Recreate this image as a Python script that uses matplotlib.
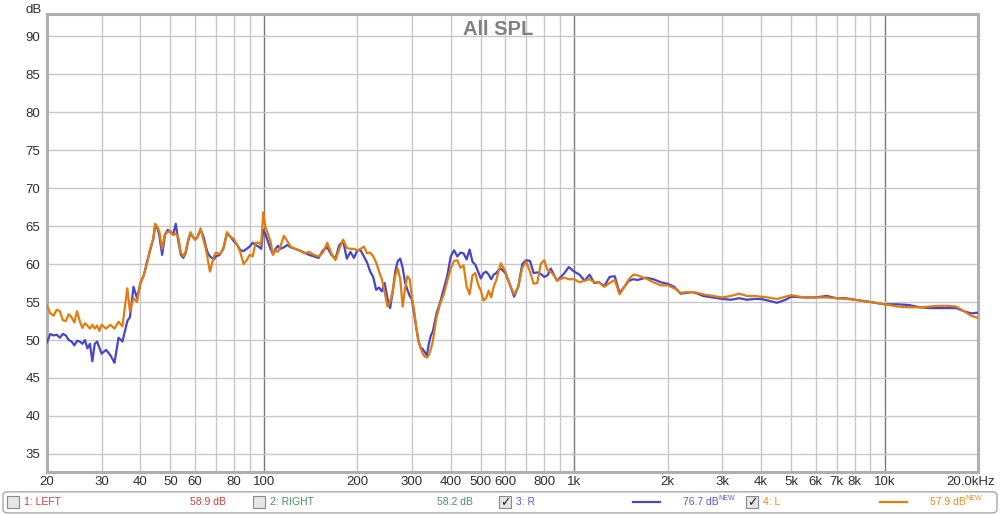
import matplotlib.pyplot as plt
from matplotlib.patches import FancyBboxPatch, Rectangle
from matplotlib.lines import Line2D
from matplotlib.ticker import FixedLocator, NullFormatter
from matplotlib.transforms import ScaledTranslation

plt.rcParams['font.family'] = ['Liberation Sans', 'DejaVu Sans']

# frequency points (Hz) shared by both traces
freq = [20, 20.5, 21, 21.5, 22, 22.5, 23, 23.5, 24, 24.5, 25, 25.5, 26, 26.5, 27, 27.5,
        28, 28.5, 29, 29.5, 30, 31, 32, 33, 34, 35, 36.3, 37, 38, 39, 40, 41, 42, 43, 44,
        44.6, 45.5, 46, 47, 48, 49, 50, 51, 52, 53, 54, 55, 56, 57, 58, 59, 60, 61, 62.5,
        64, 65, 66, 67, 68, 69, 70, 72, 74, 76, 78, 80, 82, 84, 86, 88, 90, 92, 94, 96, 98,
        99.5, 101, 103, 105, 107, 109, 111, 113, 116, 119, 122, 126, 130, 135, 140, 145,
        150, 155, 160, 165, 170, 175, 180, 185, 190, 195, 200, 205, 210, 215, 220, 225,
        230, 235, 240, 245, 250, 255, 260, 265, 270, 275, 280, 285, 290, 295, 300, 305,
        310, 315, 320, 325, 330, 335, 340, 345, 350, 360, 370, 380, 390, 400, 410, 420,
        430, 440, 450, 460, 470, 480, 490, 500, 510, 520, 530, 540, 550, 560, 570, 580,
        600, 620, 640, 660, 680, 700, 720, 740, 760, 780, 800, 820, 840, 860, 880, 900,
        930, 960, 1000, 1040, 1080, 1120, 1160, 1200, 1250, 1300, 1350, 1400, 1450, 1500,
        1550, 1600, 1700, 1800, 1900, 2000, 2100, 2200, 2300, 2400, 2500, 2600, 2800, 3000,
        3200, 3400, 3600, 3800, 4000, 4200, 4500, 4800, 5000, 5500, 6000, 6500, 7000, 7500,
        8000, 9000, 10000, 11000, 12000, 13000, 14000, 15000, 16000, 17000, 18000, 19000,
        20000]

spl_r = [49.7, 50.8, 50.6, 50.7, 50.3, 50.8, 50.6, 50.0, 49.8, 49.3, 49.9, 49.8, 49.5, 50.0,
         48.9, 49.5, 47.2, 49.5, 49.8, 49.0, 48.2, 48.7, 48.0, 47.0, 50.3, 49.8, 52.5, 53.0,
         57.0, 55.5, 57.5, 58.5, 60.3, 61.8, 63.3, 65.0, 64.6, 63.8, 61.2, 63.8, 64.5, 64.2,
         63.9, 65.3, 63.0, 61.2, 60.8, 61.5, 63.0, 64.0, 63.6, 63.2, 63.5, 64.5, 63.5, 62.3,
         61.4, 61.0, 60.8, 60.6, 61.0, 61.2, 62.0, 64.0, 63.6, 63.0, 62.5, 61.8, 61.7, 62.0,
         62.3, 62.8, 62.5, 62.3, 62.0, 64.5, 64.0, 63.0, 62.0, 61.3, 62.0, 62.4, 62.0, 62.2,
         62.5, 62.2, 62.0, 61.8, 61.5, 61.2, 61.0, 60.8, 61.8, 62.2, 61.2, 60.7, 62.5, 63.0,
         60.7, 61.6, 60.8, 61.8, 61.8, 61.0, 60.2, 59.0, 58.3, 56.6, 56.9, 56.4, 57.5, 55.5,
         54.2, 56.3, 59.0, 60.4, 60.7, 59.5, 57.6, 56.6, 55.8, 55.3, 53.4, 51.5, 49.8, 49.0,
         48.8, 48.4, 48.0, 49.5, 50.6, 51.1, 53.5, 55.0, 56.8, 58.5, 61.0, 61.8, 61.0, 61.5,
         61.4, 60.6, 61.9, 60.3, 59.9, 59.0, 58.1, 58.8, 59.0, 58.6, 58.0, 58.6, 58.8, 59.2,
         59.4, 58.8, 57.3, 55.7, 57.0, 60.0, 60.5, 60.4, 58.8, 58.9, 58.7, 58.3, 58.5, 59.4,
         58.6, 57.8, 58.2, 58.8, 59.6, 59.0, 58.6, 57.8, 58.6, 57.5, 57.6, 57.1, 58.3, 58.4,
         56.2, 57.0, 57.8, 58.0, 57.9, 58.2, 58.0, 57.6, 57.4, 57.0, 56.1, 56.2, 56.3, 56.1,
         55.8, 55.6, 55.4, 55.3, 55.5, 55.3, 55.4, 55.4, 55.2, 54.9, 55.3, 55.7, 55.6, 55.6,
         55.8, 55.5, 55.5, 55.3, 55.0, 54.7, 54.7, 54.6, 54.3, 54.2, 54.2, 54.2, 54.2, 53.8,
         53.5, 53.6]

spl_l = [54.5, 53.5, 53.2, 54.0, 53.8, 52.6, 52.5, 53.4, 53.0, 52.3, 53.8, 52.5, 51.6, 52.2,
         51.9, 51.5, 52.0, 51.5, 51.9, 51.2, 52.0, 51.5, 52.0, 51.5, 52.4, 51.8, 56.8, 53.8,
         55.5, 55.0, 57.5, 58.5, 60.0, 62.0, 63.3, 65.3, 64.8, 64.3, 62.0, 64.0, 64.2, 64.4,
         63.8, 64.0, 63.5, 61.5, 61.0, 61.7, 63.2, 64.2, 63.6, 63.2, 63.5, 64.7, 63.0, 62.0,
         60.5, 59.0, 60.0, 61.0, 61.5, 61.3, 62.0, 64.2, 63.6, 63.3, 62.5, 61.5, 60.0, 60.5,
         61.2, 61.0, 62.8, 62.8, 62.5, 66.8, 65.0, 64.0, 63.0, 61.2, 61.8, 61.6, 62.3, 63.7,
         63.0, 62.3, 62.0, 61.8, 61.4, 61.6, 61.2, 61.0, 61.5, 62.8, 61.4, 60.5, 62.0, 63.2,
         62.1, 62.0, 62.0, 61.8, 62.0, 62.3, 61.4, 61.5, 61.0, 60.2, 59.0, 58.0, 56.3, 54.4,
         55.0, 56.5, 58.5, 59.4, 58.0, 54.4, 56.8, 58.4, 58.0, 55.5, 53.8, 51.5, 49.8, 48.9,
         48.2, 47.8, 47.7, 48.0, 48.8, 49.8, 53.0, 54.8, 56.0, 57.8, 59.4, 60.4, 60.5, 59.5,
         59.8, 57.0, 56.0, 58.5, 58.8, 57.3, 56.5, 55.2, 55.5, 56.5, 55.6, 57.0, 57.8, 59.0,
         60.1, 59.0, 57.3, 56.0, 57.0, 59.5, 60.3, 59.0, 57.4, 57.5, 60.0, 60.5, 59.2, 59.0,
         58.5, 57.8, 58.0, 58.2, 58.0, 58.0, 57.6, 57.8, 58.0, 57.6, 57.6, 57.0, 57.5, 57.9,
         56.0, 57.0, 58.0, 58.6, 58.5, 58.1, 57.6, 57.2, 57.2, 56.8, 56.2, 56.3, 56.3, 56.2,
         56.0, 55.8, 55.6, 55.8, 56.1, 55.8, 55.8, 55.7, 55.6, 55.4, 55.7, 55.9, 55.6, 55.6,
         55.6, 55.5, 55.4, 55.3, 55.0, 54.7, 54.4, 54.3, 54.3, 54.4, 54.5, 54.5, 54.4, 53.8,
         53.2, 52.9]

xtick_pos = [20, 30, 40, 50, 60, 80, 100, 200, 300, 400, 500, 600, 800,
             1000, 2000, 3000, 4000, 5000, 6000, 7000, 8000, 10000, 20000]
xtick_lab = ['20', '30', '40', '50', '60', '80', '100', '200', '300', '400', '500', '600', '800',
             '1k', '2k', '3k', '4k', '5k', '6k', '7k', '8k', '10k', '20.0kHz']
ytick_pos = [35, 40, 45, 50, 55, 60, 65, 70, 75, 80, 85, 90]

BLUE = '#4646c8'
ORANGE = '#e07c10'
GRID = '#c8c8c8'
TXT = '#303030'

fig = plt.figure(figsize=(10, 5.15), dpi=100)
ax = fig.add_axes([0.047, 43 / 515, 0.931, 458 / 515])

ax.set_xscale('log')
ax.set_xlim(20, 20000)
ax.set_ylim(32.63, 92.9)

# grid: lines at 1..9 of each decade, darker at the decades
minor = [m * 10 ** d for d in range(1, 5) for m in range(1, 10)]
minor = [v for v in minor if 20 <= v <= 20000]
for v in minor:
    col = '#7a7a7a' if v in (100, 1000, 10000) else GRID
    ax.axvline(v, color=col, lw=1.0, zorder=0)
for v in ytick_pos:
    ax.axhline(v, color=GRID, lw=1.0, zorder=0)

ax.plot(freq, spl_r, color=BLUE, lw=1.6, zorder=3)
ax.plot(freq, spl_l, color=ORANGE, lw=1.6, zorder=4)

ax.xaxis.set_major_locator(FixedLocator(xtick_pos))
ax.set_xticklabels(xtick_lab)
ax.xaxis.set_minor_formatter(NullFormatter())
ax.set_yticks(ytick_pos)
ax.tick_params(axis='both', which='both', length=0, labelsize=9.5, colors=TXT)
ax.tick_params(axis='x', pad=3)
ax.tick_params(axis='y', pad=5)
last = ax.get_xticklabels()[-1]
last.set_transform(last.get_transform() + ScaledTranslation(-0.07, 0, fig.dpi_scale_trans))

for side in ['left', 'top', 'right', 'bottom']:
    ax.spines[side].set_color('#b0b0b0')
    ax.spines[side].set_linewidth(2.2)

ax.text(0.485, 0.967, 'All SPL', transform=ax.transAxes, ha='center', va='center',
        fontsize=14.5, fontweight='bold', color='#808080')
fig.text(0.034, 0.993, 'dB', ha='center', va='top', fontsize=9.5, color=TXT)

# legend strip along the bottom
box = FancyBboxPatch((0.003, 0.004), 0.994, 0.041, transform=fig.transFigure,
                     boxstyle='round,pad=0,rounding_size=0.006', facecolor='white',
                     edgecolor='#a8a8a8', lw=1.0)
fig.patches.append(box)

ly = 0.0245
entries = [
    (0.007, '1: LEFT', '#c84040', 0.190, '58.9 dB', False, None),
    (0.253, '2: RIGHT', '#4a8f60', 0.437, '58.2 dB', False, None),
    (0.499, '3: R', '#5a5ad0', 0.683, '76.7 dB', True, BLUE),
    (0.746, '4: L', '#e88a20', 0.930, '57.9 dB', True, ORANGE),
]
for x0, name, col, xv, val, checked, lc in entries:
    fig.patches.append(Rectangle((x0, ly - 0.0117), 0.012, 0.0233, transform=fig.transFigure,
                                 facecolor='#e6e6e6', edgecolor='#8a8a8a', lw=0.8))
    if checked:
        fig.text(x0 + 0.006, ly, '\u2713', ha='center', va='center', fontsize=9,
                 color='#202020', fontweight='bold', family='DejaVu Sans')
    fig.text(x0 + 0.017, ly, name, ha='left', va='center', fontsize=7.5, color=col)
    fig.text(xv, ly, val, ha='left', va='center', fontsize=7.5, color=col)
    if lc is not None:
        fig.lines.append(Line2D([xv - 0.050, xv - 0.023], [ly, ly], transform=fig.transFigure,
                                color=lc, lw=1.6))
        fig.text(xv + 0.035, ly + 0.007, 'NEW', ha='left', va='center', fontsize=5, color=col)

fig.savefig('out.png', dpi=100)
